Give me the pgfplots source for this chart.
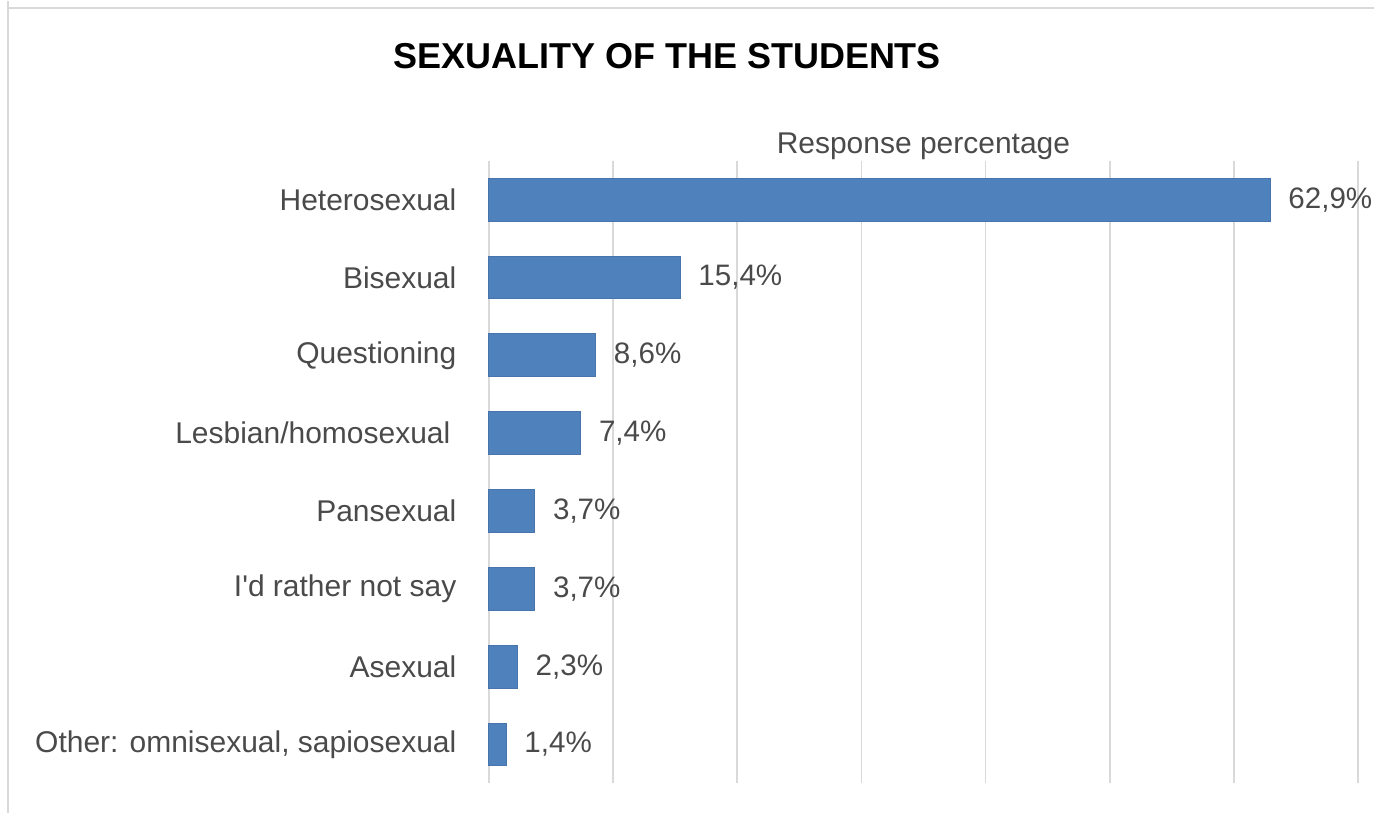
\documentclass[border=0pt]{standalone}
\usepackage{fontspec}
\setmainfont{Liberation Sans}[Ligatures=TeXOff]
\usepackage{pgfplots}
\pgfplotsset{compat=1.18}
\definecolor{barblue}{HTML}{4F81BD}
\definecolor{txtgray}{HTML}{4A4A4A}
\definecolor{gridgray}{HTML}{D9D9D9}
\begin{document}
\begin{tikzpicture}[x=1pt,y=1pt]
\path (0,0) rectangle (687.5,406.5);
\draw[gridgray, line width=0.8pt] (4,406.5) -- (4,403) -- (687.5,403);
\draw[gridgray, line width=0.8pt] (4,403) -- (4,0);
\node[anchor=base, font=\fontsize{18}{20}\selectfont\bfseries, text=black] at (333.75,372.5) {SEXUALITY OF THE STUDENTS};
\begin{axis}[
  at={(244.5pt,15pt)}, anchor=south west,
  scale only axis,
  width=435pt, height=311.5pt,
  xmin=0, xmax=70,
  ymin=-0.5, ymax=7.5,
  y dir=reverse,
  xtick={0,10,...,70},
  xticklabels={},
  xmajorgrids,
  grid style={gridgray, line width=0.8pt},
  major tick length=0pt,
  axis line style={draw=none},
  ytick={0,...,7},
  yticklabels={Heterosexual, Bisexual, Questioning, Lesbian/homosexual\kern3pt, Pansexual, I'd rather not say, Asexual, {Other: omnisexual, sapiosexual}},
  yticklabel style={font=\fontsize{15}{17}\selectfont, text=txtgray, anchor=east, inner sep=0pt, xshift=-16pt},
  xbar,
  bar width=0.55,
  point meta=x,
  nodes near coords={\pgfmathprintnumber[fixed,fixed zerofill,precision=1,use comma,assume math mode=true]{\pgfplotspointmeta}\%},
  nodes near coords style={font=\fontsize{14.8}{16}\selectfont, text=txtgray, anchor=west, inner sep=0pt, xshift=9pt},
  clip=false,
]
\addplot[fill=barblue, draw=barblue!90!black, line width=0.4pt] coordinates {
  (62.9,0) (15.4,1) (8.6,2) (7.4,3) (3.7,4) (3.7,5) (2.3,6) (1.4,7)
};
\node[anchor=base, font=\fontsize{15}{17}\selectfont, text=txtgray, yshift=3.5pt] at (rel axis cs:0.5,1) {Response percentage};
\end{axis}
\end{tikzpicture}
\end{document}
